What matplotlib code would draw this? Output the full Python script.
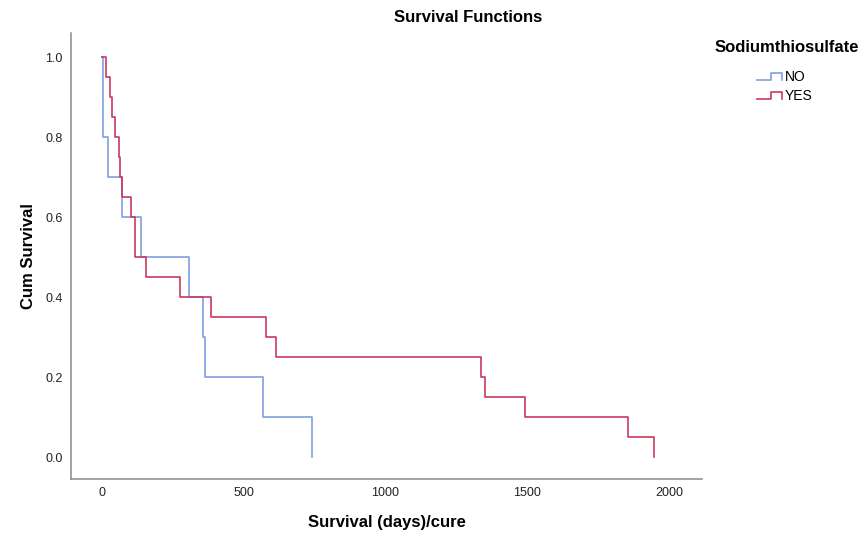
import matplotlib
matplotlib.use("Agg")
import matplotlib.pyplot as plt
from matplotlib.lines import Line2D

plt.rcParams['font.family'] = ['Liberation Sans', 'DejaVu Sans']

# Data
groups = ["NO", "YES"]
no_times = [0, 5, 20, 71, 137, 307, 357, 365, 569, 742]
no_surv = [1.0, 0.8, 0.7, 0.6, 0.5, 0.4, 0.3, 0.2, 0.1, 0.0]
yes_times = [0, 15, 27, 35, 46, 61, 64, 71, 103, 116, 155, 276, 385, 577, 614,
             1337, 1350, 1493, 1856, 1947]
yes_surv = [1.0, 0.95, 0.9, 0.85, 0.8, 0.75, 0.7, 0.65, 0.6, 0.5, 0.45, 0.4,
            0.35, 0.3, 0.25, 0.2, 0.15, 0.1, 0.05, 0.0]
x_ticks = [0, 500, 1000, 1500, 2000]
y_ticks = [0.0, 0.2, 0.4, 0.6, 0.8, 1.0]

blue = '#7fa0e2'
red = '#c8395f'

W, H = 867, 537
fig = plt.figure(figsize=(W / 100, H / 100), dpi=100)
ax = fig.add_axes([71 / W, 1 - 479 / H, (702 - 71) / W, (479 - 33) / H])

ax.step(no_times, no_surv, where='post', color=blue, lw=1.2)
ax.step(yes_times, yes_surv, where='post', color=red, lw=1.2)

ax.set_xlim(-109, 2116)
ax.set_ylim(-0.055, 1.06)
ax.set_xticks(x_ticks)
ax.set_xticklabels([str(t) for t in x_ticks])
ax.set_yticks(y_ticks)
ax.set_yticklabels([f"{t:.1f}" for t in y_ticks])
ax.tick_params(length=0, labelsize=9, colors='#222222', pad=6)
for s in ['top', 'right']:
    ax.spines[s].set_visible(False)
for s in ['left', 'bottom']:
    ax.spines[s].set_color('#8a8a8a')
    ax.spines[s].set_linewidth(1.1)

ax.set_xlabel("Survival (days)/cure", fontsize=12, fontweight='bold', labelpad=11)
ax.set_ylabel("Cum Survival", fontsize=12, fontweight='bold', labelpad=7)

fig.text(468 / W, 1 - 18 / H, "Survival Functions", ha='center', va='center',
         fontsize=12, fontweight='bold')

# Legend drawn manually
fig.text(787 / W, 1 - 48 / H, "Sodiumthiosulfate", ha='center', va='center',
         fontsize=12, fontweight='bold')
for i, (g, c) in enumerate(zip(groups, [blue, red])):
    yc = 77 + i * 19
    xs = [757, 771, 771, 782, 782]
    ys = [yc + 3, yc + 3, yc - 4, yc - 4, yc + 3]
    fig.add_artist(Line2D([x / W for x in xs], [1 - y / H for y in ys],
                          color=c, lw=1.2, transform=fig.transFigure))
    fig.text(785 / W, 1 - (yc) / H, g, ha='left', va='center', fontsize=10)

fig.savefig("out.png", dpi=100)
